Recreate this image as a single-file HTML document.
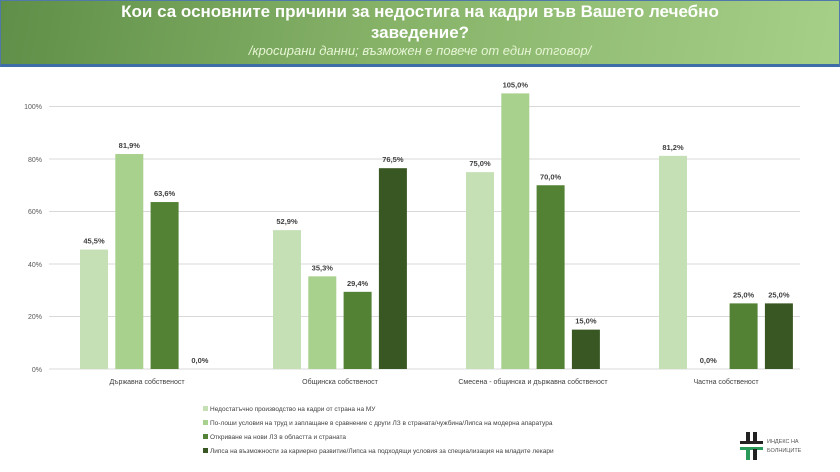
<!DOCTYPE html>
<html><head><meta charset="utf-8"><style>
body{margin:0;width:840px;height:472px;background:#fff;overflow:hidden;font-family:"Liberation Sans","Noto Sans CJK SC",sans-serif;}
.hdr{position:absolute;left:0;top:0;width:838px;height:63px;background:linear-gradient(100deg,#5f8f48 0%,#86b268 45%,#a6cf88 100%);border:1px solid #4f79a8;border-bottom:3px solid #3d6ea8;}
.t{position:absolute;left:0;width:840px;text-align:center;color:#fff;font-weight:bold;font-size:17px;}
.s{position:absolute;left:0;width:840px;text-align:center;color:#e6f5d4;font-style:italic;font-size:13px;top:43px;}
</style></head><body>
<div class="hdr"></div>
<div class="t" style="top:2px">Кои са основните причини за недостига на кадри във Вашето лечебно</div>
<div class="t" style="top:23px">заведение?</div>
<div class="s">/кросирани данни;  възможен е повече от един отговор/</div>
<svg width="840" height="472" style="position:absolute;left:0;top:0" font-family="Liberation Sans, sans-serif">
<g stroke="#d9d9d9" stroke-width="1">
<line x1="49" x2="800" y1="106.5" y2="106.5"/><line x1="49" x2="800" y1="159" y2="159"/><line x1="49" x2="800" y1="211.5" y2="211.5"/><line x1="49" x2="800" y1="264" y2="264"/><line x1="49" x2="800" y1="316.5" y2="316.5"/><line x1="49" x2="800" y1="369" y2="369"/>
</g>
<g font-size="7" fill="#595959" text-anchor="end">
<text x="42" y="109">100%</text><text x="42" y="162">80%</text><text x="42" y="214">60%</text><text x="42" y="267">40%</text><text x="42" y="319">20%</text><text x="42" y="372">0%</text>
</g>
<g id="bars"></g>
<g font-size="7" fill="#404040" text-anchor="middle">
<text x="147" y="384">Държавна собственост</text>
<text x="340" y="384">Общинска собственост</text>
<text x="533" y="384">Смесена - общинска и държавна собственост</text>
<text x="726" y="384">Частна собственост</text>
</g>
<g font-size="6.5" fill="#404040">
<rect x="203" y="406" width="5" height="5" fill="#c5e0b4"/><text x="210" y="411">Недостатъчно производство на кадри от страна на МУ</text>
<rect x="203" y="420" width="5" height="5" fill="#a9d18e"/><text x="210" y="425">По-лоши условия на труд и заплащане в сравнение с други ЛЗ в страната/чужбина/Липса на модерна апаратура</text>
<rect x="203" y="434" width="5" height="5" fill="#548235"/><text x="210" y="439">Откриване на нови ЛЗ в областта и страната</text>
<rect x="203" y="448" width="5" height="5" fill="#385723"/><text x="210" y="453">Липса на възможности за кариерно развитие/Липса на подходящи условия за специализация на младите лекари</text>
</g>
<g>
<rect x="746" y="432" width="4" height="11" fill="#222"/><rect x="753" y="432" width="4" height="11" fill="#222"/>
<rect x="740" y="441" width="23" height="3" fill="#222"/>
<rect x="740" y="447" width="23" height="3" fill="#2a9a5a"/>
<rect x="746" y="449" width="4" height="11" fill="#2a9a5a"/><rect x="753" y="449" width="4" height="11" fill="#222"/>
<text x="767" y="443" font-size="5.5" fill="#555">ИНДЕКС НА</text>
<text x="767" y="452" font-size="5.5" fill="#555">БОЛНИЦИТЕ</text>
</g>
</svg>
<script>
var d=[[45.5,81.9,63.6,0],[52.9,35.3,29.4,76.5],[75,105,70,15],[81.2,0,25,25]];
var c=["#c5e0b4","#a9d18e","#548235","#385723"];var s="";
for(var g=0;g<4;g++)for(var i=0;i<4;i++){var v=d[g][i];var x=80+g*193+i*35.3;var h=v*2.625;var y=369-h;
if(v>0)s+='<rect x="'+x+'" y="'+y+'" width="28" height="'+h+'" fill="'+c[i]+'"/>';
s+='<text x="'+(x+14)+'" y="'+(y-6)+'" font-size="7.5" font-weight="bold" fill="#404040" text-anchor="middle">'+v.toFixed(1).replace('.',',')+'%</text>';}
document.getElementById('bars').innerHTML=s;
</script>
</body></html>
